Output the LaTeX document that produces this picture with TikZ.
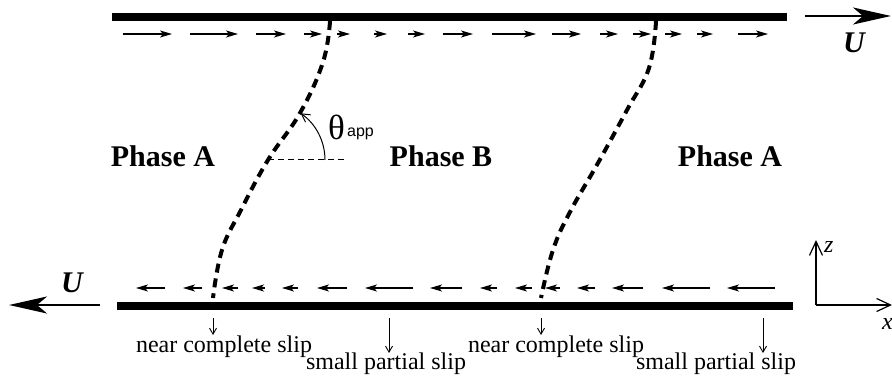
\documentclass[tikz,border=0pt]{standalone}
\usepackage{fontspec}
\setmainfont{Liberation Serif}
\setsansfont{Liberation Sans}
\usetikzlibrary{arrows.meta}
\tikzset{
  wall/.style={line width=8pt},
  flow/.style={line width=1.2pt,-{Stealth[length=12pt,width=7pt,inset=3pt]}},
  bigU/.style={line width=2.5pt,-{Stealth[length=38pt,width=17pt,inset=10pt]}},
  iface/.style={line width=4pt,dash pattern=on 9pt off 6pt},
  slip/.style={line width=0.9pt,-{Straight Barb[length=6pt,width=7pt]}},
  axisarrow/.style={line width=1.2pt,-{Straight Barb[length=14pt,width=13pt]}},
  lbl/.style={font=\fontsize{24}{28}\selectfont, inner sep=0pt},
  phase/.style={font=\fontsize{30}{34}\selectfont\bfseries, inner sep=0pt},
  ulbl/.style={font=\fontsize{30}{34}\selectfont\bfseries\itshape, inner sep=0pt},
  axlbl/.style={font=\fontsize{24}{28}\selectfont\itshape, inner sep=0pt},
}
\begin{document}
\begin{tikzpicture}[x=1pt,y=-1pt]
\useasboundingbox (0,0) rectangle (892,387);
% walls
\draw[wall] (112,17) -- (787,17);
\draw[wall] (117,306) -- (793,306);
% U arrows
\coordinate (ut0) at (805,16);
\coordinate (ut1) at (891,16);
\draw[bigU] (ut0) -- (ut1);
\node[ulbl, anchor=base] (uT) at (854,53) {U};
\coordinate (ub0) at (100,305);
\coordinate (ub1) at (9,305);
\draw[bigU] (ub0) -- (ub1);
\node[ulbl, anchor=base] (uB) at (72,293) {U};
% top flow arrows
\foreach \a/\b in {123/172,190/238,256/286,304/322,337/350,374/387,408/425,443/473,492/536,552/581,600/618,633/651,665/682,697/713,738/768}
  \draw[flow] (\a,34) -- (\b,34);
% bottom flow arrows
\foreach \a/\b in {165/136,202/183,238/222,265/252,298/282,347/317,413/365,462/430,497/480,532/515,560/545,595/577,643/612,710/662,775/727}
  \draw[flow] (\a,288) -- (\b,288);
% interfaces
\draw[iface] plot[smooth, tension=0.7] coordinates {(330,21) (323,62) (300,113) (268,160) (241,210) (222,250) (213,298)};
\draw[iface] plot[smooth, tension=0.7] coordinates {(656,21) (649,68) (627,110) (598,163) (570,212) (553,250) (541,298)};
% angle
\coordinate (ang) at (268,160);
\coordinate (angE) at (347,160);
\draw[line width=1pt, dash pattern=on 6pt off 4pt] (ang) -- (angE);
\draw[line width=1pt,-{Straight Barb[length=8pt,width=9pt]}] (325,160) arc[start angle=0, end angle=55, radius=57pt];
\node[inner sep=0pt, anchor=base west, font=\fontsize{35}{38}\selectfont] (theta) at (328,140) {θ};
\node[inner sep=0pt, anchor=base west, font=\fontsize{16}{18}\selectfont\sffamily] (app) at (347,137) {app};
% phases
\node[phase, anchor=base] (pA1) at (163,167) {Phase A};
\node[phase, anchor=base] (pB) at (441,167) {Phase B};
\node[phase, anchor=base] (pA2) at (730,167) {Phase A};
% slip arrows and labels
\coordinate (s1a) at (213,318); \coordinate (s1b) at (213,335);
\coordinate (s2a) at (389,318); \coordinate (s2b) at (389,353);
\coordinate (s3a) at (541,318); \coordinate (s3b) at (541,335);
\coordinate (s4a) at (763,318); \coordinate (s4b) at (763,353);
\draw[slip] (s1a) -- (s1b);
\draw[slip] (s2a) -- (s2b);
\draw[slip] (s3a) -- (s3b);
\draw[slip] (s4a) -- (s4b);
\node[lbl, anchor=base] (l1) at (224,353) {near complete slip};
\node[lbl, anchor=base] (l2) at (386,370) {small partial slip};
\node[lbl, anchor=base] (l3) at (556,353) {near complete slip};
\node[lbl, anchor=base] (l4) at (716,370) {small partial slip};
% axes
\coordinate (O) at (816,305);
\coordinate (zt) at (816,240);
\coordinate (xt) at (892,305);
\draw[axisarrow] (O) -- (zt);
\draw[axisarrow] (O) -- (xt);
\node[axlbl, anchor=base west] (zl) at (824,253) {z};
\node[axlbl, anchor=base west] (xl) at (882,330) {x};
\end{tikzpicture}
\end{document}
